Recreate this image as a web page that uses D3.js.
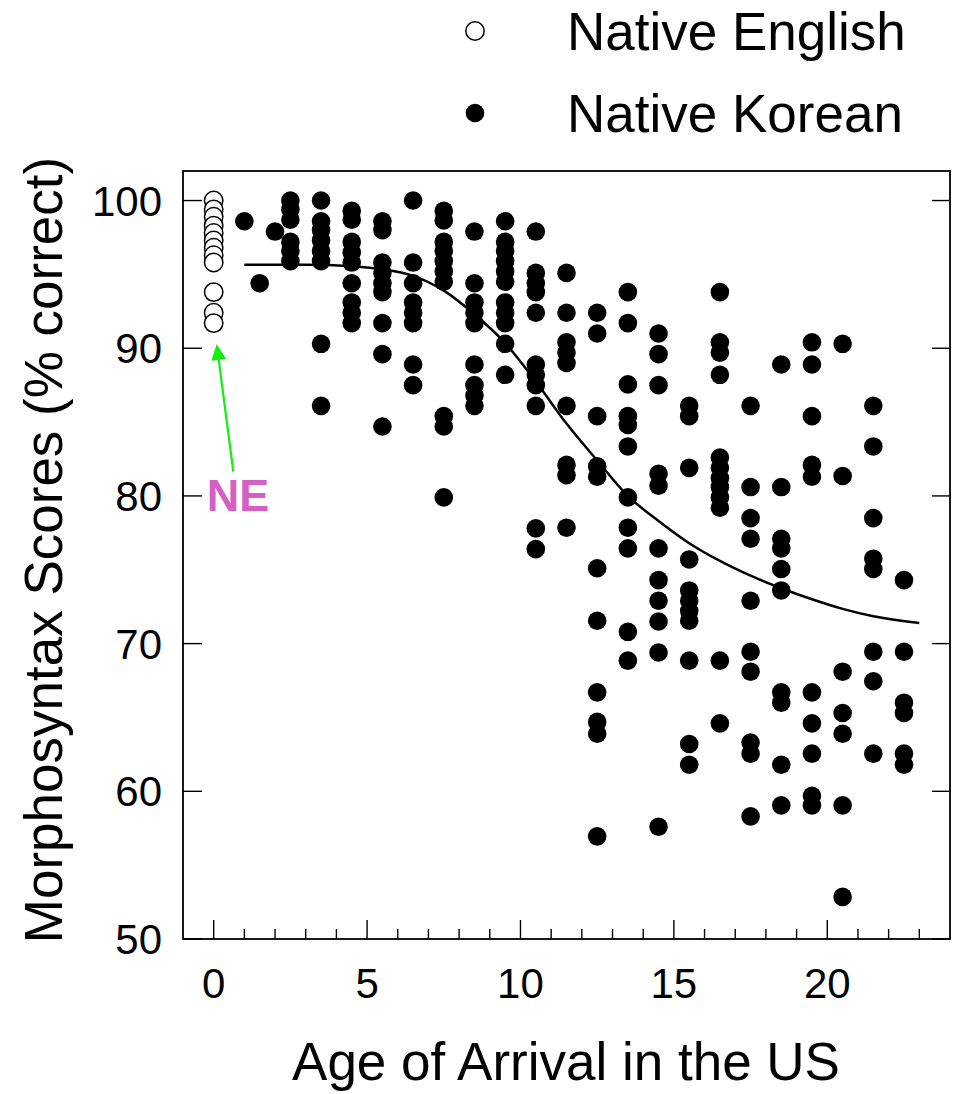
<!DOCTYPE html>
<html lang="en">
<head>
<meta charset="UTF-8">
<title>Morphosyntax Scores by Age of Arrival</title>
<script src="https://d3js.org/d3.v7.min.js"></script>
<style>
  body { margin: 0; background: #fff; }
  svg text { font-family: "Liberation Sans", Arial, sans-serif; fill: #000; }
</style>
</head>
<body>
<script>
// native English speakers (all plotted at age 0)
var neAge = 0;
var neScores = [100, 99.4, 98.9, 98.3, 97.8, 97.3, 96.8, 96.3, 95.8, 93.8, 92.4, 91.7];

// native Korean speakers, one column per age of arrival
var koreanAges = [1, 1.5, 2, 2.5, 3.5, 4.5, 5.5, 6.5, 7.5, 8.5, 9.5, 10.5,
                  11.5, 12.5, 13.5, 14.5, 15.5, 16.5, 17.5, 18.5, 19.5, 20.5, 21.5, 22.5];
var koreanScores = [
  [98.6],
  [94.4],
  [97.9],
  [100, 99.4, 98.7, 97.2, 96.6, 95.9],
  [100, 98.6, 98.0, 97.3, 96.6, 95.9, 90.3, 86.1],
  [99.3, 98.7, 97.2, 96.5, 95.8, 94.4, 93.1, 92.4, 91.7],
  [98.6, 98.0, 95.8, 95.1, 94.4, 93.8, 91.7, 89.6, 84.7],
  [100, 95.8, 94.4, 93.1, 92.4, 91.7, 88.9, 87.5],
  [99.3, 98.65, 97.2, 96.6, 95.9, 95.2, 94.5, 85.4, 84.7, 79.9],
  [97.9, 94.4, 93.1, 92.4, 91.7, 88.9, 87.5, 86.8, 86.1],
  [98.6, 97.2, 96.6, 95.9, 95.2, 94.5, 93.1, 92.4, 91.7, 90.3, 88.2],
  [97.9, 95.1, 94.4, 93.8, 92.4, 88.9, 88.2, 87.5, 86.1, 77.8, 76.4],
  [95.1, 92.4, 90.4, 89.7, 89.0, 86.1, 82.1, 81.4, 77.85],
  [92.4, 91.0, 85.4, 82.0, 81.3, 75.1, 71.55, 66.7, 64.7, 63.9, 56.95],
  [93.8, 91.7, 87.55, 85.4, 84.8, 83.35, 79.9, 77.85, 76.45, 70.8, 68.85],
  [91.0, 89.6, 87.5, 81.5, 80.7, 76.45, 74.3, 72.9, 71.5, 69.4, 57.6],
  [86.1, 85.4, 81.9, 75.7, 73.6, 72.9, 72.2, 71.55, 68.85, 63.2, 61.8],
  [93.8, 90.4, 89.7, 88.2, 82.6, 81.9, 81.2, 80.6, 79.9, 79.2, 68.85, 64.6],
  [86.1, 80.6, 78.5, 77.1, 72.9, 69.45, 68.1, 63.3, 62.55, 58.3],
  [88.9, 80.6, 77.1, 76.45, 75.05, 73.6, 66.7, 66.0, 61.8, 59.05],
  [90.4, 88.9, 85.4, 82.1, 81.3, 66.7, 64.6, 62.55, 59.7, 59.05],
  [90.3, 81.35, 68.1, 65.3, 63.9, 59.05, 52.85],
  [86.1, 83.35, 78.5, 75.75, 75.05, 69.45, 67.45, 62.55],
  [74.3, 69.45, 66.0, 65.3, 62.55, 61.8]
];

// fitted curve
var curveAge   = [1, 3, 4.5, 5.5, 6.5, 7.5, 8.5, 9.5, 10.5, 11.5, 12.5, 13.5,
                  14.5, 15.5, 16.5, 17.5, 18.5, 19.5, 20.5, 21.5, 23];
var curveScore = [95.65, 95.65, 95.55, 95.35, 94.9, 93.9, 92.3, 90.35, 87.75, 84.9, 82.4, 80.0,
                  78.3, 76.8, 75.6, 74.6, 73.75, 73.0, 72.35, 71.85, 71.4];

var xMajor = [0, 5, 10, 15, 20];
var xMinor = d3.range(0, 24);
var yMajor = [50, 60, 70, 80, 90, 100];

var W = 953, H = 1094;
var plotL = 183, plotR = 950, plotT = 171, plotB = 939;

var svg = d3.select("body").append("svg").attr("width", W).attr("height", H);

var x = d3.scaleLinear().domain([-1, 24]).range([plotL, plotR]);
var y = d3.scaleLinear().domain([50, 102]).range([plotB, plotT]);

// ticks (all pointing into the plot)
var g = svg.append("g");
g.selectAll(".xminor").data(xMinor).enter().append("line")
  .attr("x1", d => x(d)).attr("x2", d => x(d))
  .attr("y1", plotB).attr("y2", d => plotB - (xMajor.indexOf(d) >= 0 ? 19 : 10))
  .attr("stroke", "#000").attr("stroke-width", 1.4);

g.selectAll(".yl").data(yMajor).enter().append("line")
  .attr("x1", plotL).attr("x2", plotL + 19)
  .attr("y1", d => y(d)).attr("y2", d => y(d))
  .attr("stroke", "#000").attr("stroke-width", 1.4);
g.selectAll(".yr").data(yMajor).enter().append("line")
  .attr("x1", plotR).attr("x2", plotR - 18)
  .attr("y1", d => y(d)).attr("y2", d => y(d))
  .attr("stroke", "#000").attr("stroke-width", 1.4);

// frame
svg.append("rect")
  .attr("x", plotL).attr("y", plotT).attr("width", plotR - plotL).attr("height", plotB - plotT)
  .attr("fill", "none").attr("stroke", "#000").attr("stroke-width", 1.8);

// tick labels
svg.selectAll(".xlab").data(xMajor).enter().append("text")
  .attr("x", d => x(d)).attr("y", 998)
  .attr("text-anchor", "middle").attr("font-size", 42)
  .text(d => d);
svg.selectAll(".ylab").data(yMajor).enter().append("text")
  .attr("x", 162).attr("y", d => y(d)).attr("dy", "0.36em")
  .attr("text-anchor", "end").attr("font-size", 42)
  .text(d => d);

// axis titles
svg.append("text")
  .attr("x", 566).attr("y", 1080)
  .attr("text-anchor", "middle").attr("font-size", 53)
  .text("Age of Arrival in the US");
svg.append("text")
  .attr("transform", "translate(62,550) rotate(-90)")
  .attr("text-anchor", "middle").attr("font-size", 53)
  .text("Morphosyntax Scores (% correct)");

// fitted curve
var line = d3.line().x(d => x(d[0])).y(d => y(d[1])).curve(d3.curveMonotoneX);
svg.append("path")
  .datum(d3.zip(curveAge, curveScore))
  .attr("d", line)
  .attr("fill", "none").attr("stroke", "#000").attr("stroke-width", 2.5);

// Korean points
var kPts = [];
koreanAges.forEach(function(a, i) {
  koreanScores[i].forEach(function(s) { kPts.push([a, s]); });
});
svg.selectAll(".k").data(kPts).enter().append("circle")
  .attr("cx", d => x(d[0])).attr("cy", d => y(d[1])).attr("r", 9.3)
  .attr("fill", "#000");

// native English points
svg.selectAll(".ne").data(neScores).enter().append("circle")
  .attr("cx", x(neAge)).attr("cy", d => y(d)).attr("r", 9.2)
  .attr("fill", "#fff").attr("stroke", "#000").attr("stroke-width", 1.5);

// NE annotation with green arrow
var ax0 = 233.3, ay0 = 471.7, ax1 = 216.7, ay1 = 344;
var len = Math.hypot(ax1 - ax0, ay1 - ay0), ux = (ax1 - ax0) / len, uy = (ay1 - ay0) / len;
var hl = 16, hw = 7.5;
var bx = ax1 - ux * hl, by = ay1 - uy * hl;
svg.append("line")
  .attr("x1", ax0).attr("y1", ay0).attr("x2", bx).attr("y2", by)
  .attr("stroke", "#11ee11").attr("stroke-width", 2.2);
svg.append("polygon")
  .attr("points", [[ax1, ay1], [bx - uy * hw, by + ux * hw], [bx + uy * hw, by - ux * hw]].join(" "))
  .attr("fill", "#11ee11");
svg.append("text")
  .attr("x", 238).attr("y", 511)
  .attr("text-anchor", "middle").attr("font-size", 45).attr("font-weight", "bold")
  .style("fill", "#d45fc5")
  .text("NE");

// legend
var legend = [
  {label: "Native English", open: true, y: 31},
  {label: "Native Korean", open: false, y: 113}
];
var lg = svg.selectAll(".lg").data(legend).enter().append("g");
lg.append("circle")
  .attr("cx", 475).attr("cy", d => d.y).attr("r", d => d.open ? 9.2 : 9.3)
  .attr("fill", d => d.open ? "#fff" : "#000")
  .attr("stroke", "#000").attr("stroke-width", d => d.open ? 1.5 : 0);
lg.append("text")
  .attr("x", 567).attr("y", d => d.y).attr("dy", "0.36em")
  .attr("font-size", 53)
  .text(d => d.label);
</script>
</body>
</html>
